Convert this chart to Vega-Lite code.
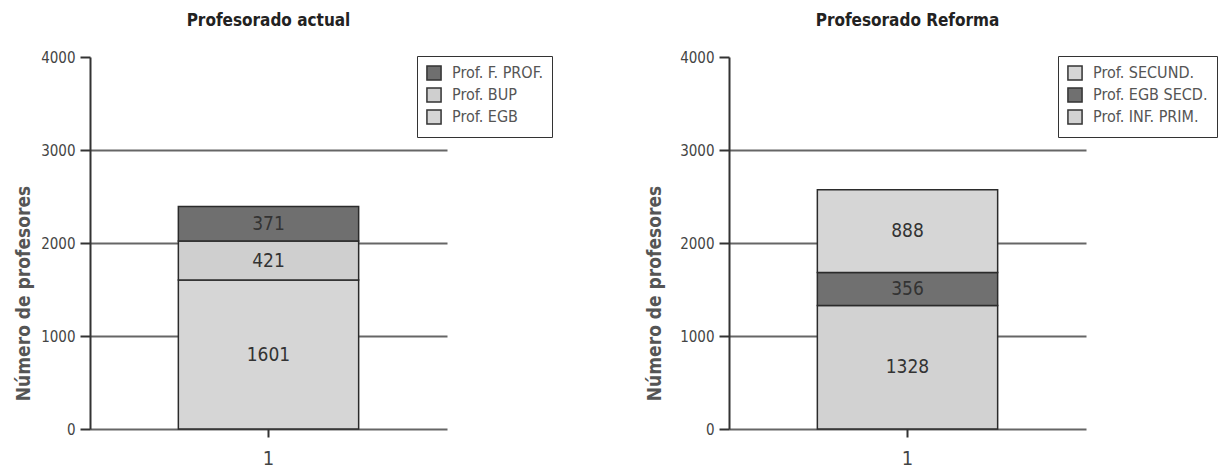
{
  "$schema": "https://vega.github.io/schema/vega-lite/v6.json",
  "background": "white",
  "padding": {"left": 14, "top": 12, "right": 0, "bottom": 0},
  "bounds": "flush",
  "spacing": 282,
  "config": {
    "font": "Liberation Sans Narrow, DejaVu Sans Condensed, sans-serif",
    "view": {"stroke": null},
    "title": {"fontSize": 17, "fontWeight": "bold", "color": "#222", "offset": 20},
    "axisY": {
      "grid": true,
      "gridColor": "#666",
      "gridWidth": 2,
      "gridOpacity": {"condition": {"test": "datum.value >= 4000", "value": 0}, "value": 1},
      "domainColor": "#333",
      "domainWidth": 2,
      "tickColor": "#333",
      "tickSize": 10,
      "tickWidth": 2,
      "labelFontSize": 15,
      "labelColor": "#444",
      "labelPadding": 5,
      "titleFontSize": 19,
      "titleFontWeight": "bold",
      "titleColor": "#555",
      "titleAlign": "center",
      "titleBaseline": "middle",
      "titleAngle": 270,
      "titleY": 236
    },
    "axisX": {
      "labelAngle": 0,
      "domain": false,
      "grid": false,
      "tickColor": "#333",
      "tickSize": 8,
      "tickWidth": 2,
      "labelFontSize": 20,
      "labelPadding": 11,
      "labelColor": "#444"
    },
    "legend": {
      "title": null,
      "orient": "none",
      "strokeColor": "#333",
      "fillColor": "white",
      "padding": 9,
      "symbolType": "square",
      "symbolSize": 200,
      "symbolStrokeColor": "#333",
      "symbolStrokeWidth": 1.5,
      "labelFontSize": 16,
      "labelColor": "#555",
      "labelOffset": 10,
      "rowPadding": 0
    }
  },
  "datasets": {
    "actual": [
      {"grupo": "1", "tipo": "Prof. EGB", "profesores": 1601},
      {"grupo": "1", "tipo": "Prof. BUP", "profesores": 421},
      {"grupo": "1", "tipo": "Prof. F. PROF.", "profesores": 371}
    ],
    "reforma": [
      {"grupo": "1", "tipo": "Prof. INF. PRIM.", "profesores": 1328},
      {"grupo": "1", "tipo": "Prof. EGB SECD.", "profesores": 356},
      {"grupo": "1", "tipo": "Prof. SECUND.", "profesores": 888}
    ]
  },
  "hconcat": [
    {
      "width": 357,
      "height": 372,
      "data": {"name": "actual"},
      "title": "Profesorado actual",
      "transform": [
        {"calculate": "indexof(['Prof. EGB','Prof. BUP','Prof. F. PROF.'], datum.tipo)", "as": "orden"},
        {"stack": "profesores", "groupby": ["grupo"], "sort": [{"field": "orden", "order": "ascending"}], "as": ["inicio", "fin"]},
        {"calculate": "(datum.inicio + datum.fin) / 2", "as": "centro"}
      ],
      "encoding": {
        "x": {"field": "grupo", "type": "nominal", "title": null, "scale": {"paddingInner": 0, "paddingOuter": 0.49}}
      },
      "layer": [
        {
          "mark": {"type": "bar", "stroke": "#2b2b2b", "strokeWidth": 1.5},
          "encoding": {
            "y": {"field": "inicio", "type": "quantitative", "scale": {"domain": [0, 4000], "nice": false}, "title": "Número de profesores", "axis": {"titleX": -67, "values": [0, 1000, 2000, 3000, 4000], "format": "d"}},
            "y2": {"field": "fin"},
            "color": {
              "field": "tipo", "type": "nominal",
              "scale": {"domain": ["Prof. F. PROF.", "Prof. BUP", "Prof. EGB"], "range": ["#6f6f6f", "#cfcfcf", "#d6d6d6"]},
              "legend": {"legendX": 327, "legendY": -1}
            }
          }
        },
        {
          "mark": {"type": "text", "fontSize": 19, "color": "#333"},
          "encoding": {
            "y": {"field": "centro", "type": "quantitative"},
            "text": {"field": "profesores", "type": "quantitative", "format": "d"}
          }
        }
      ]
    },
    {
      "width": 357,
      "height": 372,
      "data": {"name": "reforma"},
      "title": "Profesorado Reforma",
      "transform": [
        {"calculate": "indexof(['Prof. INF. PRIM.','Prof. EGB SECD.','Prof. SECUND.'], datum.tipo)", "as": "orden"},
        {"stack": "profesores", "groupby": ["grupo"], "sort": [{"field": "orden", "order": "ascending"}], "as": ["inicio", "fin"]},
        {"calculate": "(datum.inicio + datum.fin) / 2", "as": "centro"}
      ],
      "encoding": {
        "x": {"field": "grupo", "type": "nominal", "title": null, "scale": {"paddingInner": 0, "paddingOuter": 0.49}}
      },
      "layer": [
        {
          "mark": {"type": "bar", "stroke": "#2b2b2b", "strokeWidth": 1.5},
          "encoding": {
            "y": {"field": "inicio", "type": "quantitative", "scale": {"domain": [0, 4000], "nice": false}, "title": "Número de profesores", "axis": {"titleX": -75, "values": [0, 1000, 2000, 3000, 4000], "format": "d"}},
            "y2": {"field": "fin"},
            "color": {
              "field": "tipo", "type": "nominal",
              "scale": {"domain": ["Prof. SECUND.", "Prof. EGB SECD.", "Prof. INF. PRIM."], "range": ["#d6d6d6", "#707070", "#d2d2d2"]},
              "legend": {"legendX": 329, "legendY": -1}
            }
          }
        },
        {
          "mark": {"type": "text", "fontSize": 19, "color": "#333"},
          "encoding": {
            "y": {"field": "centro", "type": "quantitative"},
            "text": {"field": "profesores", "type": "quantitative", "format": "d"}
          }
        }
      ]
    }
  ],
  "resolve": {"scale": {"color": "independent", "y": "independent", "x": "independent"}}
}
